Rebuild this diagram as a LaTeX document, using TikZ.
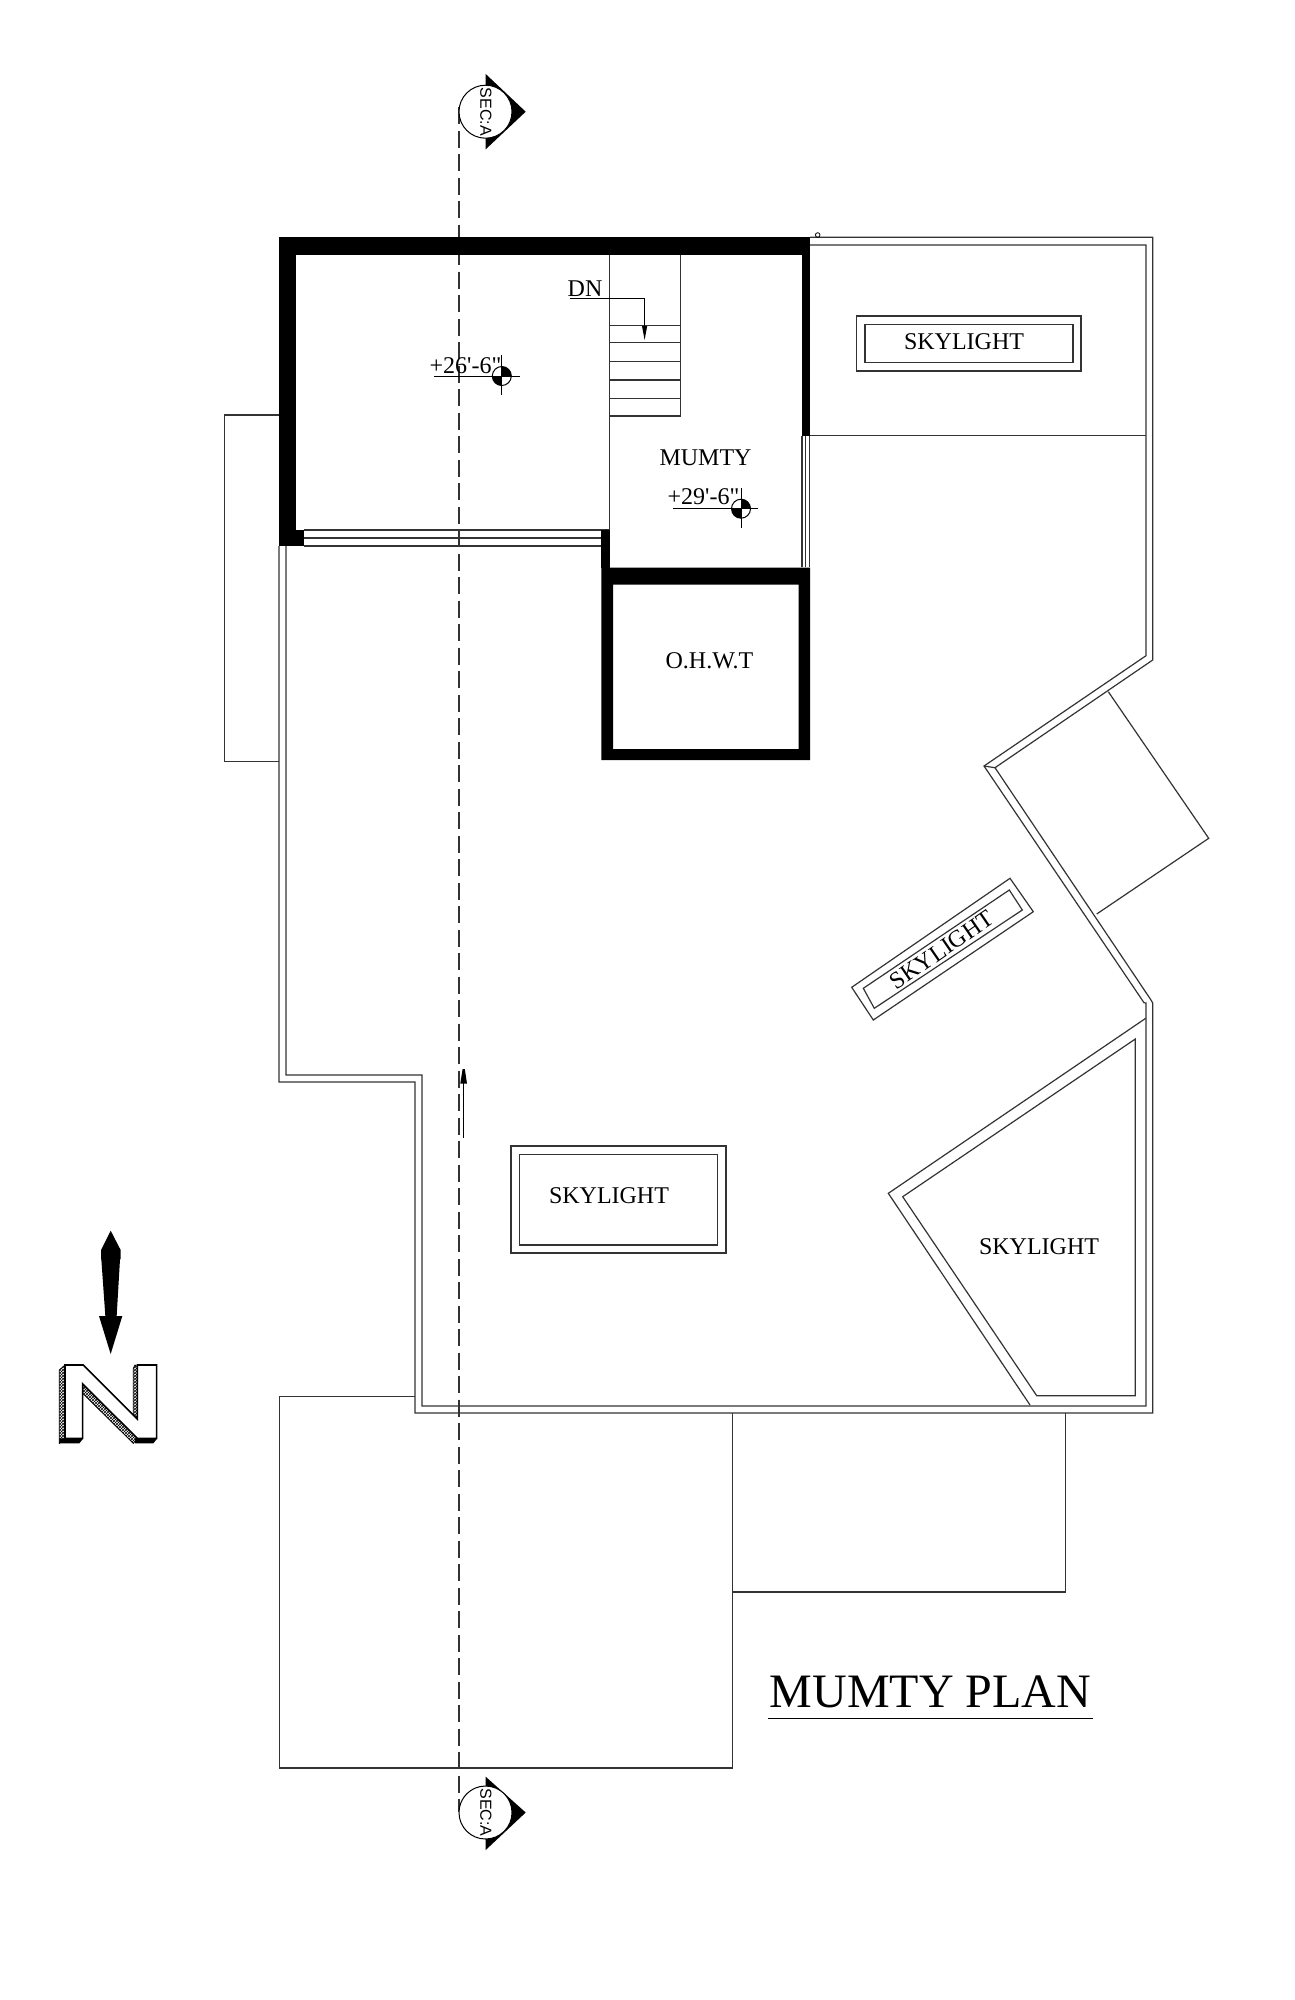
\documentclass[tikz,border=0pt]{standalone}
\usepackage{fontspec}
\setmainfont{Liberation Serif}
\setsansfont{Liberation Sans}
\newfontfamily\rawserif{Liberation Serif}
\usetikzlibrary{patterns}
\definecolor{ink}{gray}{0.2}
\tikzset{
  plan/.style={draw=ink,line width=1.2pt,line join=miter},
  wall/.style={fill=black,draw=none},
  centre line/.style={draw=ink,line width=1.2pt,dash pattern=on 17pt off 6.5pt},
  label/.style={inner sep=0pt,font=\fontsize{24}{24}\selectfont,text=black},
  level label/.style={inner sep=0pt,font=\rawserif\fontsize{24}{24}\selectfont,text=black},
  section tag/.style={inner sep=0pt,font=\sffamily\fontsize{16}{16}\selectfont,text=black,rotate=-90},
}
\newcommand{\levelmark}[1]{%
  \begin{scope}[shift={#1}]
    \draw[black,line width=1pt] (0,0) circle (9.5);
    \fill[black] (0,0) -- (9.5,0) arc (0:-90:9.5) -- cycle;
    \fill[black] (0,0) -- (-9.5,0) arc (180:90:9.5) -- cycle;
    \draw[black,line width=1pt] (0,-21) -- (0,19);
  \end{scope}}
\newcommand{\sectag}[3]{%
  \fill[black] (485.7,#1) -- (525.7,#2) -- (485.7,#3) -- cycle;
  \draw[black,fill=white,line width=1pt] (485.5,#2) circle (26.5);}
\begin{document}
\begin{tikzpicture}[x=1pt,y=-1pt]
\useasboundingbox (0,0) rectangle (1294,2000);
\fill[white] (0,0) rectangle (1294,2000);

% centre line
\coordinate (cl top) at (459,107);
\coordinate (cl bottom) at (459,1812);
\draw[centre line] (cl top) -- (cl bottom);

% section marks
\sectag{74}{111.7}{149.3}
\node[section tag] (secA) at (486,111.7) {SEC:A};
\sectag{1776.7}{1812.5}{1850}
\node[section tag] (secB) at (486,1812.5) {SEC:A};

% side wing, balcony, bottom rectangles
\draw[plan] (279,415) -- (224.5,415) -- (224.5,761.5) -- (279,761.5);
\draw[plan] (1108.3,691.7) -- (1208.7,838.3) -- (1096.7,914);
\draw[plan] (415,1396.7) -- (279.3,1396.7) -- (279.3,1768) -- (732.7,1768) -- (732.7,1413);
\draw[plan] (732.7,1592) -- (1065.7,1592) -- (1065.7,1413);

% boundary: outer line
\draw[plan] (810,237.3) -- (1152.7,237.3) -- (1152.7,660) -- (995,767.7) -- (1151,1000)
  -- (1152.7,1003) -- (1152.7,1413) -- (415,1413) -- (415,1082) -- (279,1082) -- (279,546);
% boundary: inner line
\draw[plan] (810,245) -- (1146,245) -- (1146,655.7) -- (984,766) -- (1144,1002.7)
  -- (1146,1003) -- (1146,1406) -- (422,1406) -- (422,1075) -- (286,1075) -- (286,546);
\draw[plan] (984,766) -- (995,767.7);
\draw[plan] (810,435.7) -- (1146,435.7);
\draw[black,line width=.8pt] (817.7,235) circle (2.3);

% mumty lines
\draw[plan] (609.5,255) -- (609.5,567);
\draw[plan] (680.7,255) -- (680.7,416);
\foreach \yy in {325.3,342.7,361.3,380,398.7,416}
  \draw[plan] (609.5,\yy) -- (680.7,\yy);
\draw[plan] (303.6,530) -- (609.5,530);
\draw[plan] (303.6,538) -- (601.4,538);
\draw[plan] (303.6,546) -- (601.4,546);
\draw[plan] (802,436) -- (802,567);
\draw[plan] (805.7,436) -- (805.7,567);
\draw[plan] (809.4,436) -- (809.4,567);

% walls
\fill[wall] (278.6,236.7) rectangle (810,255);
\fill[wall] (278.6,236.7) rectangle (295.7,546);
\fill[wall] (295.7,530) rectangle (303.6,546);
\fill[wall] (801.5,236.7) rectangle (810,436);
\fill[wall] (601.4,530) rectangle (610,567.6);
\fill[wall,even odd rule] (601.4,567.6) rectangle (810,760) (613,584.5) rectangle (798.5,749);

% DN leader
\node[label] (dn) at (585,289) {DN};
\draw[black,line width=1pt] (570,298.7) -- (644.6,298.7) -- (644.6,330);
\fill[black] (642,326) -- (647.2,326) -- (644.6,340) -- cycle;

% levels
\node[level label] (lev1) at (465.5,366) {+26'-6"};
\draw[black,line width=1pt] (434,376) -- (519.6,376);
\levelmark{(501.8,376)}
\node[label] (mumty) at (705.5,457.3) {MUMTY};
\node[level label] (lev2) at (703.5,496.7) {+29'-6"};
\draw[black,line width=1pt] (673,508.7) -- (757.5,508.7);
\levelmark{(741,508.7)}
\node[label] (ohwt) at (709.5,660.7) {O.H.W.T};

% skylights
\draw[plan] (856.7,316) rectangle (1081,371);
\draw[plan] (865,324.3) rectangle (1073,362.7);
\node[label] (sky1) at (964,341.7) {SKYLIGHT};

\draw[plan] (1010,878.3) -- (1033.3,911.7) -- (873.3,1020) -- (851.7,987.3) -- cycle;
\draw[plan] (1009.3,890) -- (1022.3,910) -- (874.3,1008.3) -- (863.3,988.3) -- cycle;
\node[label,rotate=34.5] (sky2) at (941.5,950) {SKYLIGHT};

\draw[plan] (511,1146) rectangle (726,1253);
\draw[plan] (519.3,1154.3) rectangle (717.7,1245);
\node[label] (sky3) at (609,1195.7) {SKYLIGHT};

\draw[plan] (1145.7,1018.3) -- (888.3,1193.3) -- (1030,1405);
\draw[plan] (1135.3,1039) -- (902.7,1196.7) -- (1036.7,1395.7) -- (1135.3,1395.7) -- cycle;
\node[label] (sky4) at (1039,1246.7) {SKYLIGHT};

% small arrow by the centre line
\draw[black,line width=1.1pt] (463.7,1138) -- (463.7,1075);
\fill[black] (460.3,1083.5) -- (467,1083.5) -- (464.8,1069) -- (462.6,1069) -- cycle;

% north arrow and letter
\begin{scope}[shift={(40,1200)},x=1/3*1pt,y=-1/3*1pt]
  \fill[black] (212,92) -- (242,150) -- (242,178) -- (240,178) -- (230,348) -- (247,348)
    -- (212,462) -- (177,348) -- (196,348) -- (184,178) -- (183,178) -- (183,150) -- cycle;
  \fill[black] (58,715) -- (128,715) -- (128,718) -- (118,730) -- (58,730) -- cycle;
  \fill[black] (285,715) -- (350,715) -- (350,718) -- (340,730) -- (285,730) -- cycle;
  \draw[black,line width=.8pt,pattern=crosshatch] (75,495) -- (58,510) -- (58,730) -- (75,715) -- cycle;
  \draw[black,line width=.8pt,pattern=crosshatch] (285,495) -- (280,505) -- (280,645) -- (292,660) -- (292,500) -- cycle;
  \draw[black,line width=.8pt,pattern=crosshatch] (128,552) -- (128,580) -- (280,730) -- (292,715) -- cycle;
  \draw[black,line width=1.6pt,fill=white] (75,495) -- (130,495) -- (292,657) -- (292,495) -- (350,495)
    -- (350,715) -- (292,715) -- (128,552) -- (128,715) -- (75,715) -- cycle;
\end{scope}

% title
\node[inner sep=0pt,anchor=base,font=\fontsize{48}{48}\selectfont] (title) at (930.5,1707.7) {MUMTY PLAN};
\draw[black,line width=1.3pt] (768,1718.3) -- (1092.7,1718.3);
\end{tikzpicture}
\end{document}
